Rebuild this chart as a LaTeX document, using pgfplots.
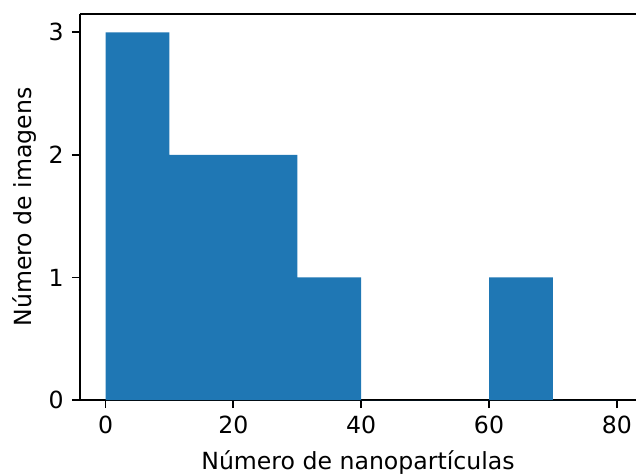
\documentclass[border=0pt]{standalone}
\usepackage{pgfplots}
\pgfplotsset{compat=1.18}
\usepackage{fontspec}
\setmainfont{DejaVu Sans}
\definecolor{mplblue}{HTML}{1F77B4}
\begin{document}
\fontsize{11.8}{13.8}\selectfont
\begin{tikzpicture}
\begin{axis}[
  name=ax,
  scale only axis,
  width=278pt, height=193pt,
  xmin=-4, xmax=83,
  ymin=0, ymax=3.15,
  axis x line*=box,
  axis y line*=left,
  xtick={0,20,40,60,80},
  ytick={0,1,2,3},
  xtick pos=bottom, ytick pos=left,
  tick align=outside,
  major tick length=4pt,
  every tick/.style={black, line width=0.9pt},
  axis line style={black, line width=0.9pt},
  /pgf/number format/assume math mode=true,
  ticklabel style={font=\fontsize{11.8}{13.8}\selectfont},
  xlabel={Número de nanopartículas},
  ylabel={Número de imagens},
  label style={font=\fontsize{11.8}{13.8}\selectfont},
  xlabel style={yshift=0pt},
  ylabel style={yshift=-2pt},
]
\addplot[ybar interval, fill=mplblue, draw=none] coordinates {
(0,3) (10,2) (20,2) (30,1) (40,0) (50,0) (60,1) (70,0) (80,0)
};
\end{axis}
\pgfresetboundingbox
\useasboundingbox ([shift={(-40pt,-37pt)}]ax.south west) rectangle ([shift={(0pt,7pt)}]ax.north east);
\end{tikzpicture}
\end{document}
